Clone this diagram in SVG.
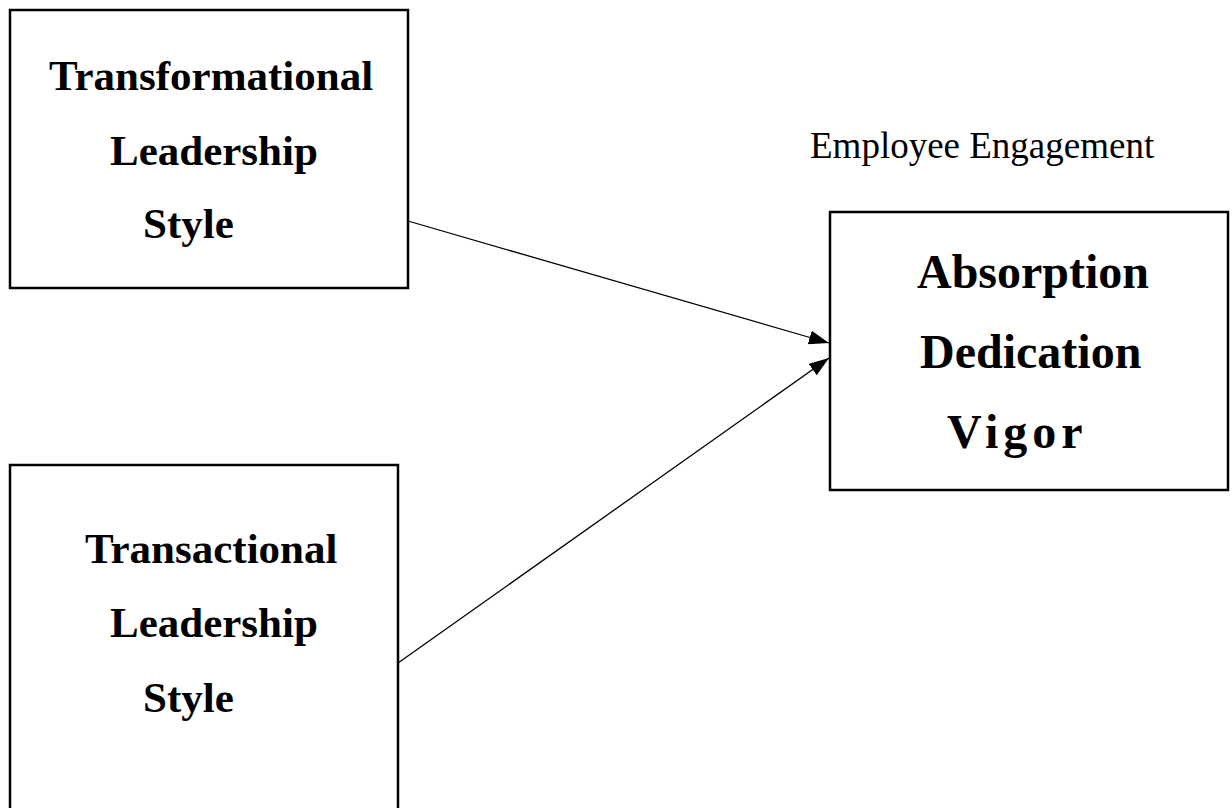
<svg xmlns="http://www.w3.org/2000/svg" width="1232" height="808" viewBox="0 0 1232 808">
  <style>
    .box { fill: #ffffff; stroke: #000000; stroke-width: 2.5; }
    .lbl { font-family: "Liberation Serif", "Times New Roman", serif; font-weight: bold; fill: #000000; }
    .small { font-size: 43px; }
    .big { font-size: 48px; }
    .caption { font-family: "Liberation Serif", "Times New Roman", serif; font-size: 37px; fill: #000000; }
    .edge { stroke: #000000; stroke-width: 1.3; fill: none; marker-end: url(#arrow); }
  </style>
  <defs>
    <marker id="arrow" markerUnits="userSpaceOnUse" markerWidth="20" markerHeight="14" refX="20" refY="7" orient="auto">
      <path d="M0,0 L20,7 L0,14 z" fill="#000000"/>
    </marker>
  </defs>
  <rect width="1232" height="808" fill="#ffffff"/>

  <g id="transformational">
    <rect class="box" x="10" y="10" width="398" height="278"/>
    <text class="lbl small" x="49" y="90">Transformational</text>
    <text class="lbl small" x="110" y="165">Leadership</text>
    <text class="lbl small" x="143" y="238">Style</text>
  </g>

  <g id="transactional">
    <rect class="box" x="10" y="465" width="388" height="360"/>
    <text class="lbl small" x="85" y="563">Transactional</text>
    <text class="lbl small" x="110" y="637">Leadership</text>
    <text class="lbl small" x="143" y="712">Style</text>
  </g>

  <g id="engagement">
    <text class="caption" x="810" y="158">Employee Engagement</text>
    <rect class="box" x="830" y="212" width="398" height="278"/>
    <text class="lbl big" x="917" y="288">Absorption</text>
    <text class="lbl big" x="920" y="368">Dedication</text>
    <text class="lbl big" x="947" y="448" letter-spacing="5">Vigor</text>
  </g>

  <g id="connectors">
    <line class="edge" x1="408" y1="221" x2="829" y2="343"/>
    <line class="edge" x1="398" y1="663" x2="829" y2="358"/>
  </g>
</svg>
